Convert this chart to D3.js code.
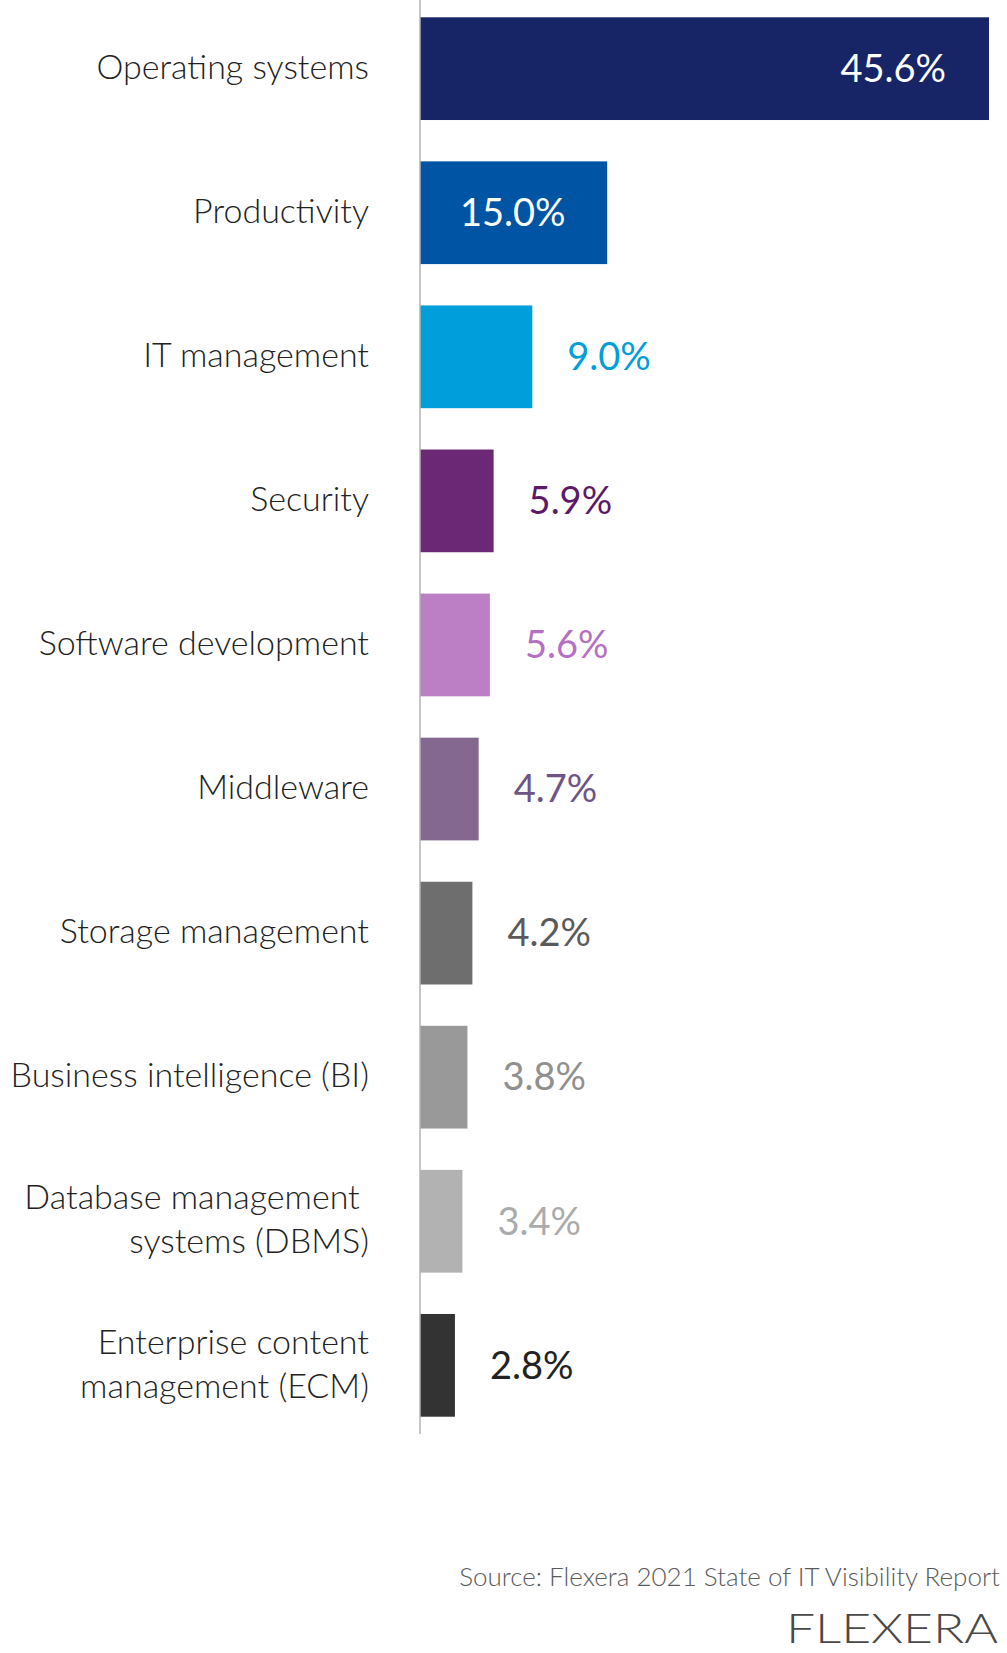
<!DOCTYPE html>
<html>
<head>
<meta charset="utf-8">
<script src="https://cdn.jsdelivr.net/npm/d3@7"></script>
<style>
  html, body { margin: 0; padding: 0; background: #ffffff; }
  svg { display: block; }
</style>
</head>
<body>
<script>
// ---- data ----
const categories = [
  ["Operating systems"],
  ["Productivity"],
  ["IT management"],
  ["Security"],
  ["Software development"],
  ["Middleware"],
  ["Storage management"],
  ["Business intelligence (BI)"],
  ["Database management\u00a0", "systems (DBMS)"],
  ["Enterprise content", "management (ECM)"]
];
const values = [45.6, 15.0, 9.0, 5.9, 5.6, 4.7, 4.2, 3.8, 3.4, 2.8];
const barColors = ["#172466", "#0054a4", "#009fdb", "#6b2874", "#bc7fc5", "#84688f", "#6e6e6e", "#999999", "#b2b2b2", "#333333"];
const labelColors = ["#ffffff", "#ffffff", "#009fdb", "#5c1a66", "#b56fc3", "#6e5585", "#5a5a5a", "#909090", "#ababab", "#222222"];
const insideLabel = [true, true, false, false, false, false, false, false, false, false];
const sourceText = "Source: Flexera 2021 State of IT Visibility Report";
const logoText = "FLEXERA";

// ---- layout ----
const W = 1007, H = 1653;
const axisX = 420;
const svg = d3.select("body").append("svg").attr("width", W).attr("height", H);

const data = values.map((v, i) => ({ v, i, name: categories[i] }));

const x = d3.scaleLinear().domain([0, 45.6]).range([axisX, 989]);
const y = d3.scaleBand().domain(d3.range(values.length)).range([0, 1434])
  .paddingInner(0.287).paddingOuter(0.12);

const labelFont = "'Source Sans Pro', Lato, 'Open Sans', sans-serif";

// bars
svg.append("g").selectAll("rect").data(data).join("rect")
  .attr("x", axisX)
  .attr("y", d => y(d.i))
  .attr("width", d => x(d.v) - axisX)
  .attr("height", y.bandwidth())
  .attr("fill", d => barColors[d.i]);

// axis line
svg.append("line")
  .attr("x1", axisX).attr("x2", axisX)
  .attr("y1", 0).attr("y2", 1434)
  .attr("stroke", "#b3b3b3").attr("stroke-width", 1.5);

// category labels
const lab = svg.append("g").selectAll("text").data(data).join("text")
  .attr("text-anchor", "end")
  .attr("font-family", labelFont)
  .attr("font-weight", 300)
  .attr("font-size", 34)
  .attr("fill", "#222222");
lab.each(function(d) {
  const t = d3.select(this);
  const n = d.name.length;
  const cy = y(d.i) + y.bandwidth() / 2;
  d.name.forEach((line, k) => {
    t.append("tspan")
      .attr("x", 369)
      .attr("y", cy + (k - (n - 1) / 2) * 44)
      .attr("dy", "0.3em")
      .text(line);
  });
});

// value labels
svg.append("g").selectAll("text").data(data).join("text")
  .attr("x", d => insideLabel[d.i] ? (d.i === 0 ? x(d.v) - 43 : axisX + 40) : x(d.v) + 35)
  .attr("y", d => y(d.i) + y.bandwidth() / 2)
  .attr("dy", "0.35em")
  .attr("text-anchor", d => (d.i === 0) ? "end" : "start")
  .attr("font-family", labelFont)
  .attr("font-weight", 400)
  .attr("font-size", 38)
  .attr("fill", d => labelColors[d.i])
  .text(d => d.v.toFixed(1) + "%");

// source
svg.append("text")
  .attr("x", 1000).attr("y", 1586)
  .attr("text-anchor", "end")
  .attr("font-family", labelFont)
  .attr("font-weight", 300)
  .attr("font-size", 26)
  .attr("fill", "#5a5a5a")
  .text(sourceText);

// logo
svg.append("text")
  .attr("x", 786).attr("y", 1643)
  .attr("font-family", "Lato, 'DejaVu Sans', sans-serif")
  .attr("font-weight", 300)
  .attr("font-size", 42)
  .attr("textLength", 212)
  .attr("lengthAdjust", "spacingAndGlyphs")
  .attr("fill", "#4a4a4a")
  .text(logoText);
</script>
</body>
</html>
